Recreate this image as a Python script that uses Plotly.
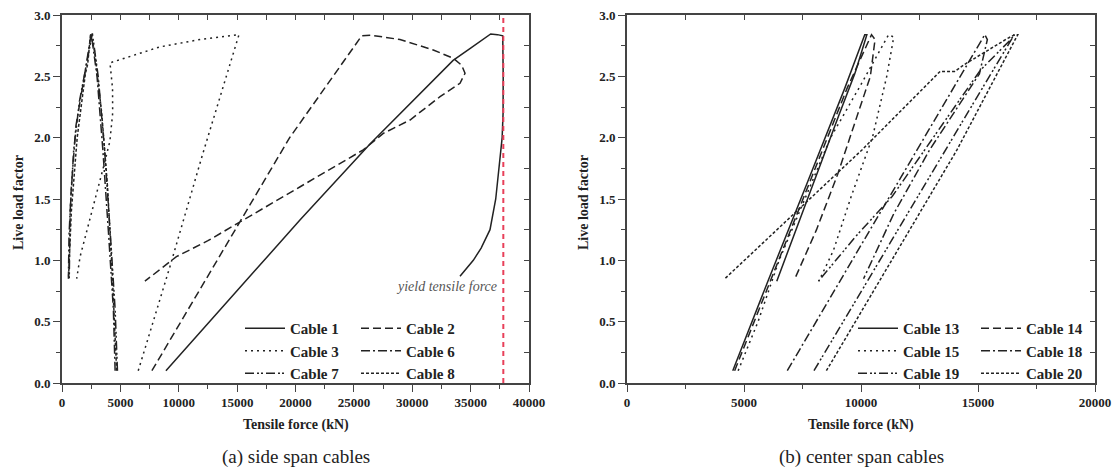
import plotly.graph_objects as go

# ---- (a) side span cables: tensile force (kN) vs live load factor ----
c1_force = [8900, 14500, 20400, 26400, 30500, 33500, 35000, 36000, 36720, 37300, 37750, 37790, 37780, 37700, 37500, 37150, 36660, 35900, 35230, 34090]
c1_lf = [0.10, 0.70, 1.33, 1.95, 2.34, 2.63, 2.73, 2.80, 2.845, 2.84, 2.83, 2.50, 2.20, 2.00, 1.80, 1.50, 1.25, 1.10, 1.00, 0.87]

c2_force = [7700, 13500, 19500, 25670, 26500, 28950, 31800, 33520, 34230, 34520, 34090, 32380, 29810, 27520, 25800, 20400, 15500, 12500, 9800, 7100]
c2_lf = [0.10, 1.03, 2.00, 2.83, 2.835, 2.80, 2.715, 2.647, 2.59, 2.525, 2.443, 2.334, 2.144, 2.035, 1.90, 1.60, 1.33, 1.16, 1.03, 0.83]

c3_force = [6530, 9250, 12000, 15160, 11820, 8390, 4110, 4330, 4340, 4100, 3550, 2500, 1550, 1260]
c3_lf = [0.10, 0.95, 1.85, 2.84, 2.80, 2.74, 2.61, 2.40, 2.20, 1.97, 1.76, 1.38, 1.03, 0.85]

c6_force = [4550, 4400, 4000, 3500, 3000, 2500, 2000, 1200, 800, 600, 550]
c6_lf = [0.10, 0.60, 1.20, 1.90, 2.50, 2.85, 2.55, 2.10, 1.60, 1.20, 0.85]

c7_force = [4750, 4550, 4150, 3650, 3100, 2600, 2100, 1500, 1000, 700, 620]
c7_lf = [0.10, 0.60, 1.20, 1.90, 2.50, 2.85, 2.60, 2.30, 1.90, 1.40, 0.85]

c8_force = [4680, 4300, 3900, 3400, 2800, 2450, 2200, 2000, 1300, 800, 560]
c8_lf = [0.10, 0.90, 1.60, 2.20, 2.70, 2.85, 2.60, 2.52, 2.00, 1.40, 0.86]

yield_force = 37800

# ---- (b) center span cables ----
c13_force = [4520, 6000, 7700, 9300, 10160, 10250, 9800, 9730, 9050, 8060, 7200, 6400]
c13_lf = [0.10, 0.82, 1.63, 2.40, 2.84, 2.84, 2.56, 2.52, 2.18, 1.68, 1.24, 0.83]

c14_force = [4600, 6100, 7800, 9400, 10450, 10600, 10400, 9800, 9000, 8100, 7150]
c14_lf = [0.10, 0.82, 1.63, 2.40, 2.84, 2.80, 2.50, 2.15, 1.70, 1.25, 0.84]

c15_force = [4750, 5600, 6500, 7600, 8700, 9900, 11180, 11400, 11100, 10500, 9580, 8820, 8200]
c15_lf = [0.10, 0.50, 1.00, 1.50, 2.00, 2.40, 2.84, 2.82, 2.50, 2.01, 1.52, 1.08, 0.83]

c18_force = [6850, 9600, 12300, 15290, 15400, 15060, 12930, 11400, 10110]
c18_lf = [0.10, 0.99, 1.87, 2.84, 2.80, 2.52, 1.90, 1.38, 0.85]

c19_force = [7990, 10800, 13700, 16550, 16400, 15100, 14000, 11330, 9800, 8180]
c19_lf = [0.10, 1.00, 1.92, 2.84, 2.80, 2.55, 2.25, 1.52, 1.20, 0.83]

c20_force = [8520, 11300, 14100, 16700, 16580, 16270, 14450, 14000, 13380, 10040, 7760, 4180]
c20_lf = [0.10, 1.00, 1.90, 2.84, 2.84, 2.81, 2.60, 2.54, 2.54, 1.90, 1.49, 0.85]

side_labels = ["Cable 1", "Cable 2", "Cable 3", "Cable 6", "Cable 7", "Cable 8"]
center_labels = ["Cable 13", "Cable 14", "Cable 15", "Cable 18", "Cable 19", "Cable 20"]

x_ticks_side = [0, 5000, 10000, 15000, 20000, 25000, 30000, 35000, 40000]
x_ticks_center = [0, 5000, 10000, 15000, 20000]
y_ticks = [0.0, 0.5, 1.0, 1.5, 2.0, 2.5, 3.0]

dash_styles = [
    "solid",
    "8px,4px",
    "2px,4px",
    "9px,3px,2px,3px",
    "9px,3px,2px,2px,2px,3px",
    "3px,2px",
]
# two-column legend: left column holds entries 0, 2, 4; right column 1, 3, 5
legend_column = ["a", "b", "a", "b", "a", "b"]

LINE = "#222222"
AXIS = "#444444"
SERIF = "Liberation Serif"

fig = go.Figure()

side = [(c1_force, c1_lf), (c2_force, c2_lf), (c3_force, c3_lf),
        (c6_force, c6_lf), (c7_force, c7_lf), (c8_force, c8_lf)]
center = [(c13_force, c13_lf), (c14_force, c14_lf), (c15_force, c15_lf),
          (c18_force, c18_lf), (c19_force, c19_lf), (c20_force, c20_lf)]

for (fx, ly), name, dash, col in zip(side, side_labels, dash_styles, legend_column):
    fig.add_trace(go.Scatter(x=fx, y=ly, mode="lines", name=name,
                             line=dict(color=LINE, width=1.5, dash=dash),
                             xaxis="x", yaxis="y",
                             legend="legend" if col == "a" else "legend2"))

fig.add_trace(go.Scatter(x=[yield_force, yield_force], y=[0, 3], mode="lines",
                         line=dict(color="#e8405a", width=2, dash="5px,4px"),
                         showlegend=False, xaxis="x", yaxis="y"))

for (fx, ly), name, dash, col in zip(center, center_labels, dash_styles, legend_column):
    fig.add_trace(go.Scatter(x=fx, y=ly, mode="lines", name=name,
                             line=dict(color=LINE, width=1.5, dash=dash),
                             xaxis="x2", yaxis="y2",
                             legend="legend3" if col == "a" else "legend4"))

# empty traces that attach the inward-tick frame axes to the figure
for xa, ya in [("x3", "y3"), ("x4", "y4")]:
    fig.add_trace(go.Scatter(x=[], y=[], mode="lines", showlegend=False,
                             hoverinfo="skip", xaxis=xa, yaxis=ya))

W, H = 1118, 475
xd1 = [62 / W, 529 / W]
xd2 = [627 / W, 1095 / W]
yd = [1 - 383 / H, 1 - 15 / H]

tickfont = dict(family=SERIF, size=13, color="#222222", weight="bold")


def main_x(rng, ticks, anchor, dom):
    return dict(domain=dom, range=rng, tickmode="array", tickvals=ticks,
                ticktext=[f"<b>{t}</b>" for t in ticks],
                ticks="outside", ticklen=7, tickwidth=1.3, tickcolor=AXIS,
                minor=dict(ticks="outside", ticklen=4, dtick=2500, tickcolor=AXIS, tickwidth=1.2),
                showline=True, linecolor=AXIS, linewidth=1.6, mirror=True,
                showgrid=False, zeroline=False, anchor=anchor, tickfont=dict(tickfont))


def main_y(anchor):
    return dict(domain=yd, range=[0, 3], tickmode="array", tickvals=y_ticks,
                ticktext=[f"<b>{t:.1f}</b>" for t in y_ticks],
                ticks="outside", ticklen=7, tickwidth=1.3, tickcolor=AXIS,
                minor=dict(ticks="outside", ticklen=4, dtick=0.25, tickcolor=AXIS, tickwidth=1.2),
                showline=True, linecolor=AXIS, linewidth=1.6, mirror=True,
                showgrid=False, zeroline=False, anchor=anchor, tickfont=dict(tickfont))


# inward ticks along the top and right edges of each frame
def top_ticks(over, rng, anchor, dom):
    return dict(overlaying=over, side="top", range=rng, domain=dom, anchor=anchor,
                tickmode="linear", dtick=2500, tick0=0, ticks="inside", ticklen=5,
                tickwidth=1.2, tickcolor=AXIS,
                showticklabels=False, showgrid=False, zeroline=False, showline=False)


def right_ticks(over, anchor):
    return dict(overlaying=over, side="right", range=[0, 3], domain=yd, anchor=anchor,
                tickmode="linear", dtick=0.25, tick0=0, ticks="inside", ticklen=5,
                tickwidth=1.2, tickcolor=AXIS,
                showticklabels=False, showgrid=False, zeroline=False, showline=False)


def legend_box(px, py):
    return dict(orientation="v", x=px / W, y=1 - py / H, xanchor="left", yanchor="top",
                itemwidth=40, tracegroupgap=0, borderwidth=0,
                font=dict(family=SERIF, size=15, color="#222", weight="bold"),
                bgcolor="rgba(0,0,0,0)")


fig.update_layout(
    width=W, height=H,
    margin=dict(l=0, r=0, t=0, b=0, autoexpand=False),
    paper_bgcolor="white", plot_bgcolor="white",
    font=dict(family=SERIF, color="#222"),
    showlegend=True,
    xaxis=main_x([0, 40000], x_ticks_side, "y", xd1), yaxis=main_y("x"),
    xaxis2=main_x([0, 20000], x_ticks_center, "y2", xd2), yaxis2=main_y("x2"),
    xaxis3=top_ticks("x", [0, 40000], "y3", xd1),
    yaxis3=right_ticks("y", "x3"),
    xaxis4=top_ticks("x2", [0, 20000], "y4", xd2),
    yaxis4=right_ticks("y2", "x4"),
    legend=legend_box(240, 312),
    legend2=legend_box(356, 312),
    legend3=legend_box(853, 312),
    legend4=legend_box(976, 312),
)


def label(text, px, py, size=14, bold=True, angle=0):
    f = dict(family=SERIF, size=size, color="#222")
    if bold:
        f["weight"] = "bold"
    return dict(text=text, x=px, y=py, xref="paper", yref="paper", showarrow=False,
                xanchor="center", yanchor="middle", textangle=angle, font=f)


annotations = [
    label("Tensile force (kN)", (xd1[0] + xd1[1]) / 2, 1 - 425 / H),
    label("Tensile force (kN)", (xd2[0] + xd2[1]) / 2, 1 - 425 / H),
    label("Live load factor", 18 / W, 1 - 203 / H, angle=-90),
    label("Live load factor", 583 / W, 1 - 203 / H, angle=-90),
    label("(a) side span cables", (xd1[0] + xd1[1]) / 2, 1 - 457 / H, size=19, bold=False),
    label("(b) center span cables", (xd2[0] + xd2[1]) / 2, 1 - 457 / H, size=19, bold=False),
    dict(text="yield tensile force", x=37450, y=0.785, xref="x", yref="y",
         xanchor="right", yanchor="middle", showarrow=False,
         font=dict(family=SERIF, size=14, color="#555", style="italic")),
]
fig.update_layout(annotations=annotations)

fig.write_html("out.html")
